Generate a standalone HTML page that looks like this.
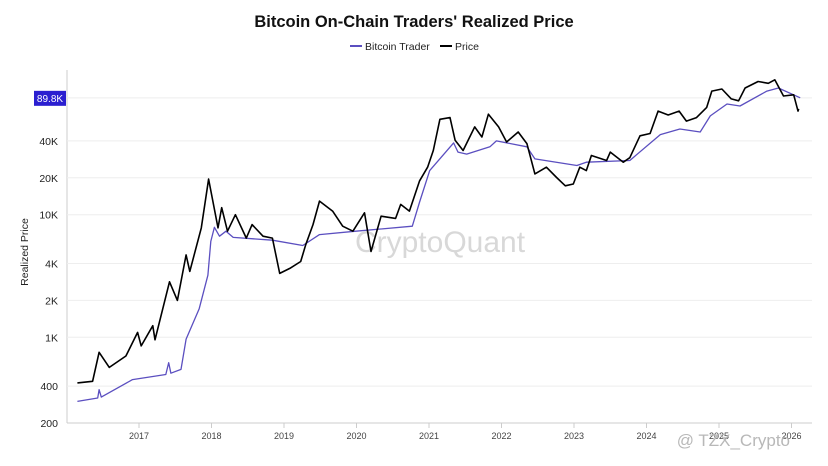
<!DOCTYPE html>
<html><head><meta charset="utf-8"><style>
html,body{margin:0;padding:0;background:#fff;}
svg{display:block;font-family:"Liberation Sans",sans-serif;}
</style></head><body>
<svg id="chart" width="828" height="466" viewBox="0 0 828 466">
<text x="414" y="27" text-anchor="middle" font-size="16.5" font-weight="bold" fill="#111">Bitcoin On-Chain Traders' Realized Price</text>
<g>
<g><line x1="350" y1="46" x2="362" y2="46" stroke="#5b4fc0" stroke-width="2"/><text x="365" y="50" font-size="10.5" fill="#222">Bitcoin Trader</text></g>
<g><line x1="440" y1="46" x2="452" y2="46" stroke="#000" stroke-width="2"/><text x="455" y="50" font-size="10.5" fill="#222">Price</text></g>
</g>
<text x="0" y="0" transform="translate(28,252) rotate(-90)" text-anchor="middle" font-size="10.5" fill="#222">Realized Price</text>
<text x="440" y="252" text-anchor="middle" font-size="30" fill="#d8d8d8">CryptoQuant</text>
<g id="grid"></g><g id="yt"></g><g id="xt"></g><g id="series"></g>
<text x="790" y="446" text-anchor="end" font-size="17" fill="#b8b8b8">@ TZX_Crypto</text>
</svg>
<script>
const yTicks=[200,400,1000,2000,4000,10000,20000,40000];
const yLabels=["200","400","1K","2K","4K","10K","20K","40K"];
const xYears=[2017,2018,2019,2020,2021,2022,2023,2024,2025,2026];
const priceT=[2016.15,2016.36,2016.45,2016.59,2016.82,2016.98,2017.03,2017.19,2017.22,2017.42,2017.53,2017.65,2017.70,2017.86,2017.96,2018.09,2018.14,2018.22,2018.33,2018.48,2018.56,2018.71,2018.84,2018.94,2019.08,2019.23,2019.30,2019.40,2019.49,2019.67,2019.81,2019.95,2020.11,2020.20,2020.34,2020.54,2020.61,2020.73,2020.87,2020.98,2021.06,2021.15,2021.29,2021.36,2021.47,2021.63,2021.73,2021.82,2021.96,2022.07,2022.23,2022.35,2022.46,2022.62,2022.76,2022.88,2022.99,2023.08,2023.17,2023.24,2023.45,2023.50,2023.68,2023.77,2023.91,2024.05,2024.16,2024.30,2024.45,2024.55,2024.69,2024.83,2024.90,2025.04,2025.17,2025.27,2025.36,2025.54,2025.68,2025.77,2025.89,2026.03,2026.09,2026.10];
const priceV=[425,438,755,568,704,1097,851,1244,955,2838,2000,4700,3450,7800,19500,7800,11400,7330,10000,6450,8300,6680,6450,3320,3650,4150,5680,8300,12900,10700,8060,7330,10370,5010,9720,9330,12140,10700,18900,24400,33400,60000,62000,40500,33400,52000,43000,66000,52000,39200,47300,38000,21500,24400,20100,17200,17800,24400,22900,30400,27700,32400,26800,29200,44000,46000,70000,65000,70000,58000,62000,75000,102000,106000,88000,85000,108000,122000,118000,126000,93000,95000,70000,73000];
const traderT=[2016.15,2016.43,2016.45,2016.48,2016.91,2017.37,2017.41,2017.44,2017.58,2017.65,2017.83,2017.95,2017.99,2018.04,2018.11,2018.20,2018.30,2018.84,2019.26,2019.49,2019.99,2020.77,2020.87,2021.01,2021.34,2021.40,2021.52,2021.84,2021.93,2022.35,2022.46,2023.04,2023.17,2023.77,2024.19,2024.46,2024.74,2024.88,2025.11,2025.29,2025.66,2025.82,2026.12];
const traderV=[300,320,374,325,452,497,621,510,547,966,1710,3210,6060,7900,6680,7330,6530,6200,5610,6880,7330,8060,12700,22900,38500,32400,31200,35800,40000,35800,28500,25200,26800,27700,45000,50000,47300,64000,80000,77000,102000,108000,89800];
const NS="http://www.w3.org/2000/svg";
const L=67,R=812,T=70,B=423;
const y=v=>423-122.6*Math.log10(v/200);
const x=t=>139+(t-2017)*72.5;
function mk(tag,attrs,parent){const e=document.createElementNS(NS,tag);for(const k in attrs)e.setAttribute(k,attrs[k]);parent.appendChild(e);return e;}
const grid=document.getElementById('grid'),yt=document.getElementById('yt'),xt=document.getElementById('xt'),ser=document.getElementById('series');
mk('line',{x1:L,y1:T,x2:L,y2:B,stroke:'#ccc'},grid);
mk('line',{x1:L,y1:B,x2:R,y2:B,stroke:'#ccc'},grid);
yTicks.forEach((v,i)=>{
  if(i>0){const g=mk('line',{x1:L,y1:y(v),x2:R,y2:y(v),stroke:'#eee'},grid);
  
  }
  const t=mk('text',{x:58,y:y(v)+4,'text-anchor':'end','font-size':'10.5',fill:'#222'},yt);
  t.textContent=yLabels[i];
  
  
});
const lastV=traderV[traderV.length-1];
mk('line',{x1:L,y1:y(lastV),x2:R,y2:y(lastV),stroke:'#eee'},grid);
const badge=mk('rect',{x:34,y:y(lastV)-7,width:32,height:15,fill:'#2b1fd0'},yt);


const bt=mk('text',{x:50,y:y(lastV)+4,'text-anchor':'middle','font-size':'10',fill:'#fff'},yt);
bt.textContent=(lastV/1000).toFixed(1)+'K';


xYears.forEach(yr=>{
  mk('line',{x1:x(yr),y1:B,x2:x(yr),y2:B+5,stroke:'#ccc'},xt);
  const t=mk('text',{x:x(yr),y:439,'text-anchor':'middle','font-size':'9',fill:'#444'},xt);
  t.textContent=yr;
  
  
});
function line(ts,vs,color,w,name){
  const d=ts.map((t,i)=>(i?'L':'M')+x(t).toFixed(1)+','+y(vs[i]).toFixed(1)).join('');
  const p=mk('path',{d:d,fill:'none',stroke:color,'stroke-width':w,'stroke-linejoin':'round'},ser);
  
  
}
line(traderT,traderV,'#5b4fc0','1.3','bitcoin-trader-line');
line(priceT,priceV,'#000','1.6','price-line');
</script>
</body></html>
